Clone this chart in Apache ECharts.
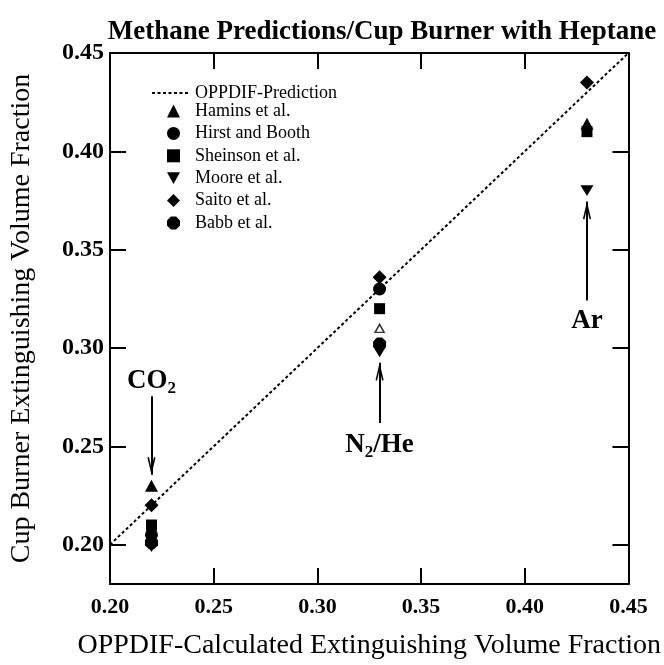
<!DOCTYPE html>
<html>
<head>
<meta charset="utf-8">
<script src="https://cdn.jsdelivr.net/npm/echarts@6/dist/echarts.min.js"></script>
<style>
  html, body { margin: 0; padding: 0; background: #fff; }
  #chart { width: 664px; height: 665px; }
</style>
</head>
<body>
<div id="chart"></div>
<script>
// Axis ranges and tick positions
const xRange = [0.20, 0.45];
const yRange = [0.18, 0.45];
const xTickValues = [0.20, 0.25, 0.30, 0.35, 0.40, 0.45];
const yTickValues = [0.20, 0.25, 0.30, 0.35, 0.40, 0.45];

// OPPDIF prediction (y = x)
const predictionLine = [[0.20, 0.20], [0.45, 0.45]];

// Cup burner measurements [OPPDIF value, cup burner value]
const hamins = [[0.22, 0.230], [0.43, 0.414]];
const haminsOpen = [[0.33, 0.310]];
const hirstBooth = [[0.22, 0.205], [0.33, 0.330]];
const sheinson = [[0.22, 0.210], [0.33, 0.320], [0.43, 0.410]];
const moore = [[0.22, 0.199], [0.33, 0.298], [0.43, 0.380]];
const saito = [[0.22, 0.220], [0.33, 0.336], [0.43, 0.435]];
const babb = [[0.22, 0.201], [0.33, 0.302]];

// Agent labels and their arrows (tail -> tip)
const agentLabels = [
  { text: '{m|CO}{s|2}', at: [0.22, 0.283] },
  { text: '{m|N}{s|2}{m|/He}', at: [0.33, 0.2505] },
  { text: '{m|Ar}', at: [0.43, 0.3135] }
];
const agentArrows = [
  [[0.22, 0.2755], [0.22, 0.2355]],
  [[0.33, 0.2619], [0.33, 0.2925]],
  [[0.43, 0.3242], [0.43, 0.3745]]
];

const lineLegend = ['OPPDIF-Prediction'];
const markerLegend = ['Hamins et al.', 'Hirst and Booth', 'Sheinson et al.',
  'Moore et al.', 'Saito et al.', 'Babb et al.'];

const FONT = '"Liberation Serif", "Times New Roman", serif';
const INK = '#000';

const downTriangle = 'path://M0,0 L10,0 L5,9 Z';
const octagon = 'path://M3,0 L7,0 L10,3 L10,7 L7,10 L3,10 L0,7 L0,3 Z';
// open arrowhead pointing up, tip at the top
const chevron = 'path://M6,0 L12,17 L9.8,17.8 L6,6.5 L2.2,17.8 L0,17 Z';

function fmt(v) { return v.toFixed(2); }

function boxAxis(pos, range, ticks, showLabels, labelSize, labelMargin, extra) {
  return Object.assign({
    type: 'value',
    position: pos,
    min: range[0],
    max: range[1],
    axisLine: { show: true, onZero: false, lineStyle: { color: INK, width: 2 } },
    axisTick: { show: true, inside: true, length: 16, customValues: ticks,
      lineStyle: { color: INK, width: 2 } },
    axisLabel: { show: showLabels, customValues: ticks, formatter: fmt, margin: labelMargin,
      fontFamily: FONT, fontWeight: 'bold', fontSize: labelSize, color: INK },
    splitLine: { show: false }
  }, extra || {});
}

const scatterBase = {
  type: 'scatter',
  xAxisIndex: 0,
  yAxisIndex: 0,
  symbolKeepAspect: true,
  itemStyle: { color: INK, opacity: 1 },
  emphasis: { disabled: true },
  z: 3
};

const legendText = { fontFamily: FONT, fontSize: 18, color: INK };

const chart = echarts.init(document.getElementById('chart'), null, { renderer: 'canvas' });

chart.setOption({
  backgroundColor: '#fff',
  animation: false,
  title: {
    text: 'Methane Predictions/Cup Burner with Heptane',
    left: 377,
    textAlign: 'center',
    top: 14,
    textStyle: { fontFamily: FONT, fontWeight: 'bold', fontSize: 27, color: INK }
  },
  grid: { left: 110, right: 21, top: 53, bottom: 75, containLabel: false },
  legend: [
    {
      data: lineLegend.map(n => ({ name: n, itemStyle: { color: 'rgba(0,0,0,0)', opacity: 0, borderWidth: 0 } })),
      orient: 'vertical',
      left: 146,
      top: 79,
      itemWidth: 38,
      itemHeight: 13,
      selectedMode: false,
      textStyle: legendText
    },
    {
      data: markerLegend,
      orient: 'vertical',
      left: 162,
      top: 97,
      itemWidth: 13,
      itemHeight: 13,
      itemGap: 4.4,
      selectedMode: false,
      textStyle: Object.assign({ padding: [0, 0, 0, 10] }, legendText)
    }
  ],
  xAxis: [
    boxAxis('bottom', xRange, xTickValues, true, 22, 12, {
      name: 'OPPDIF-Calculated Extinguishing Volume Fraction',
      nameLocation: 'middle',
      nameGap: 48,
      nameTextStyle: { fontFamily: FONT, fontSize: 28, color: INK }
    }),
    boxAxis('top', xRange, xTickValues, false, 22, 8)
  ],
  yAxis: [
    boxAxis('left', yRange, yTickValues, true, 24, 6, {
      name: 'Cup Burner Extinguishing Volume Fraction',
      nameLocation: 'middle',
      nameGap: 74,
      nameTextStyle: { fontFamily: FONT, fontSize: 28, color: INK }
    }),
    boxAxis('right', yRange, yTickValues, false, 24, 8)
  ],
  series: [
    {
      name: 'OPPDIF-Prediction',
      type: 'line',
      data: predictionLine,
      symbol: 'none',
      xAxisIndex: 0,
      yAxisIndex: 0,
      lineStyle: { color: INK, width: 2, type: [3, 2.5] },
      itemStyle: { color: INK },
      emphasis: { disabled: true },
      z: 2,
      // arrow shafts
      markLine: {
        silent: true,
        symbol: ['none', 'none'],
        label: { show: false },
        lineStyle: { color: INK, width: 2, type: 'solid' },
        emphasis: { disabled: true },
        data: agentArrows.map(a => [{ coord: a[0] }, { coord: a[1] }])
      },
      // arrowheads and agent names
      markPoint: {
        silent: true,
        symbolKeepAspect: true,
        itemStyle: { color: INK },
        emphasis: { disabled: true },
        data: agentArrows.map(a => {
          const down = a[1][1] < a[0][1];
          return {
            coord: a[1],
            symbol: chevron,
            symbolSize: [12, 18],
            symbolRotate: down ? 180 : 0,
            symbolOffset: [0, down ? -9 : 9],
            label: { show: false }
          };
        }).concat(agentLabels.map(l => ({
          coord: l.at,
          symbol: 'circle',
          symbolSize: 0,
          label: {
            show: true,
            position: 'inside',
            formatter: l.text,
            rich: {
              m: { fontFamily: FONT, fontWeight: 'bold', fontSize: 27, color: INK, lineHeight: 30 },
              s: { fontFamily: FONT, fontWeight: 'bold', fontSize: 17, color: INK, padding: [14, 0, 0, 0] }
            }
          }
        })))
      }
    },
    Object.assign({}, scatterBase, { name: 'Hamins et al.', data: hamins, symbol: 'triangle', symbolSize: [13, 12] }),
    Object.assign({}, scatterBase, { name: 'Hamins et al. (open)', data: haminsOpen, symbol: 'triangle', symbolSize: [9, 8],
      itemStyle: { color: '#fff', borderColor: INK, borderWidth: 1.5 } }),
    Object.assign({}, scatterBase, { name: 'Hirst and Booth', data: hirstBooth, symbol: 'circle', symbolSize: 13 }),
    Object.assign({}, scatterBase, { name: 'Sheinson et al.', data: sheinson, symbol: 'rect', symbolSize: 11 }),
    Object.assign({}, scatterBase, { name: 'Moore et al.', data: moore, symbol: downTriangle, symbolSize: [13, 12] }),
    Object.assign({}, scatterBase, { name: 'Saito et al.', data: saito, symbol: 'diamond', symbolSize: [14, 14] }),
    Object.assign({}, scatterBase, { name: 'Babb et al.', data: babb, symbol: octagon, symbolSize: 13 })
  ]
});
</script>
</body>
</html>
